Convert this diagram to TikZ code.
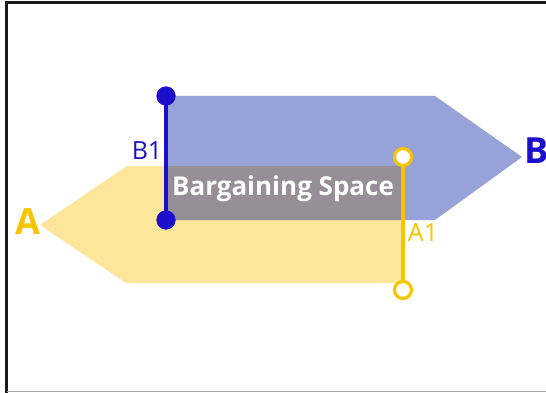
\documentclass[tikz,border=0pt]{standalone}
\usepackage{fontspec}
\setmainfont{Open Sans}
\definecolor{bfill}{HTML}{97A3D8}
\definecolor{yfill}{HTML}{FDE59A}
\definecolor{gfill}{HTML}{968F96}
\definecolor{bline}{HTML}{1C10CC}
\definecolor{yline}{HTML}{F7C400}
\tikzset{
  bdot/.style={circle,fill=bline,inner sep=0pt,minimum size=19pt},
  ydot/.style={circle,draw=yline,line width=3.2pt,fill=white,inner sep=0pt,minimum size=17pt},
  small/.style={font=\fontsize{25}{25}\selectfont},
  big/.style={font=\fontsize{36}{36}\selectfont\bfseries},
}
\begin{document}
\begin{tikzpicture}[x=1pt,y=-1pt]
\useasboundingbox (0,0) rectangle (546,393);
\fill[white] (0,0) rectangle (546,393);
% frame
\draw[line width=2.2pt,black!90] (6.5,393) -- (6.5,2.5) -- (546,2.5);
\draw[line width=1.5pt,black!35] (6.5,391.5) -- (546,391.5);
% arrows
\fill[yfill] (40,225) -- (127,166) -- (403,166) -- (403,283) -- (126,283) -- cycle;
\fill[bfill] (166,96) -- (435,96) -- (522,157) -- (435,220) -- (166,220) -- cycle;
\fill[gfill] (166,166) rectangle (403,220);
\node[font=\fontsize{26}{26}\selectfont\bfseries,text=white] (bs) at (283,189) {Bargaining Space};
% lines
\node[bdot] (b1t) at (166,96) {};
\node[bdot] (b1b) at (166,220) {};
\draw[bline,line width=3.8pt] (b1t.center) -- (b1b.center);
\node[bdot] at (b1t) {};
\node[bdot] at (b1b) {};
\node[ydot] (a1t) at (403,157) {};
\node[ydot] (a1b) at (403,290) {};
\draw[yline,line width=3.8pt] (a1t) -- (a1b);
% labels
\node[small,text=bline] (lb1) at (147,151) {B1};
\node[small,text=yline] (la1) at (423,233) {A1};
\node[big,text=yline] (la) at (28,222) {A};
\node[big,text=bline] (lb) at (537,151) {B};
\end{tikzpicture}
\end{document}
